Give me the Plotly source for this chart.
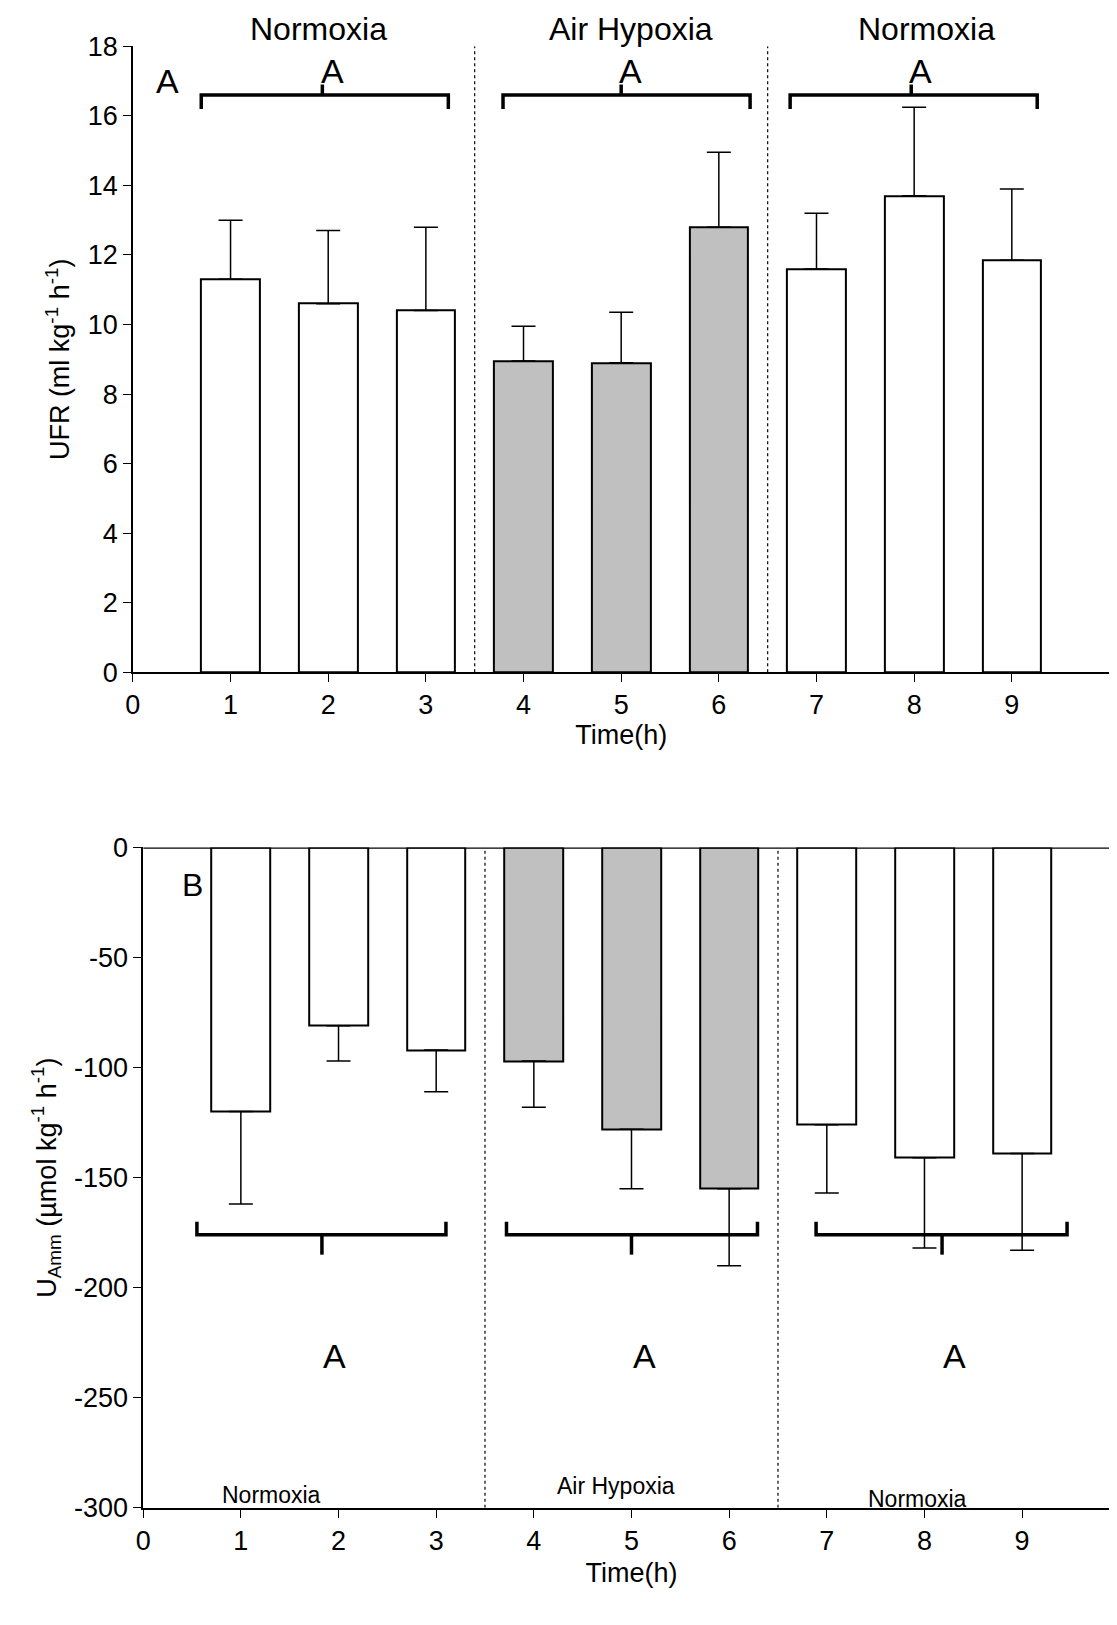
import plotly.graph_objects as go

hours = [1, 2, 3, 4, 5, 6, 7, 8, 9]
ufr = [11.3, 10.6, 10.4, 8.95, 8.9, 12.8, 11.6, 13.7, 11.85]
ufr_se = [1.7, 2.1, 2.4, 1.0, 1.45, 2.15, 1.6, 2.55, 2.05]
uamm = [-120, -81, -92, -97, -128, -155, -126, -141, -139]
uamm_se = [42, 16, 19, 21, 27, 35, 31, 41, 44]
fills = ["white"] * 3 + ["#c0c0c0"] * 3 + ["white"] * 3
b_ticks = [0, -50, -100, -150, -200, -250, -300]
b_labels = ["0", "-50", "-100", "-150", "-200", "-250", "-300"]

# brackets: (left, tick, right)
brk_a = [(0.70, 1.94, 3.23), (3.79, 5.0, 6.32), (6.73, 7.97, 9.26)]
brk_b = [(0.55, 1.83, 3.1), (3.72, 5.0, 6.29), (6.89, 8.18, 9.46)]

FONT = "Liberation Sans, Arial, sans-serif"
fig = go.Figure()

fig.add_trace(go.Bar(x=hours, y=ufr, width=0.6, marker=dict(color=fills, line=dict(color="black", width=2)),
                     error_y=dict(type="data", symmetric=False, array=ufr_se, arrayminus=[0] * 9,
                                  color="black", thickness=1.5, width=12),
                     xaxis="x", yaxis="y", showlegend=False))
fig.add_trace(go.Bar(x=hours, y=uamm, width=0.6, marker=dict(color=fills, line=dict(color="black", width=2)),
                     error_y=dict(type="data", symmetric=False, array=[0] * 9, arrayminus=uamm_se,
                                  color="black", thickness=1.5, width=12),
                     xaxis="x2", yaxis="y2", showlegend=False))

for l, t, r in brk_a:
    fig.add_trace(go.Scatter(x=[l, l, r, r, None, t, t], y=[16.2, 16.6, 16.6, 16.2, None, 16.6, 16.9],
                             mode="lines", line=dict(color="black", width=3.5), xaxis="x", yaxis="y", showlegend=False))
    fig.add_annotation(x=t + 0.1, y=17.3, text="A", showarrow=False, xref="x", yref="y",
                       font=dict(size=34, family=FONT, color="black"))
for l, t, r in brk_b:
    fig.add_trace(go.Scatter(x=[l, l, r, r, None, t, t], y=[-170, -176, -176, -170, None, -176, -185],
                             mode="lines", line=dict(color="black", width=3.5), xaxis="x2", yaxis="y2", showlegend=False))
    fig.add_annotation(x=t + 0.13, y=-231, text="A", showarrow=False, xref="x2", yref="y2",
                       font=dict(size=34, family=FONT, color="black"))

for xv in [3.5, 6.5]:
    fig.add_shape(type="line", x0=xv, x1=xv, y0=0, y1=18, xref="x", yref="y",
                  line=dict(color="black", width=1.2, dash="dot"))
    fig.add_shape(type="line", x0=xv, x1=xv, y0=-300, y1=0, xref="x2", yref="y2",
                  line=dict(color="black", width=1.2, dash="dot"))
fig.add_shape(type="line", x0=0, x1=10, y0=0, y1=0, xref="x2", yref="y2", layer="above",
              line=dict(color="black", width=2.5))

fig.add_annotation(x=0.35, y=17.0, text="A", showarrow=False, xref="x", yref="y",
                   font=dict(size=34, family=FONT, color="black"))
fig.add_annotation(x=0.5, y=-17, text="B", showarrow=False, xref="x2", yref="y2",
                   font=dict(size=32, family=FONT, color="black"))

for txt, xv in [("Normoxia", 1.9), ("Air Hypoxia", 5.1), ("Normoxia", 8.13)]:
    fig.add_annotation(x=xv, y=1.0, text=txt, showarrow=False, xref="x", yref="paper",
                       yanchor="top", yshift=14, font=dict(size=32, family=FONT, color="black"))
for txt, xv, yv in [("Normoxia", 1.31, -294), ("Air Hypoxia", 4.84, -290), ("Normoxia", 7.93, -296)]:
    fig.add_annotation(x=xv, y=yv, text=txt, showarrow=False, xref="x2", yref="y2",
                       font=dict(size=23, family=FONT, color="black"))

ax = dict(showgrid=False, zeroline=False, showline=True, linecolor="black", linewidth=1.5,
          ticks="outside", ticklen=8, tickcolor="black", tickfont=dict(size=27, family=FONT, color="black"))
tfont = dict(size=27, family=FONT, color="black")
fig.update_layout(
    width=1117, height=1625, margin=dict(l=0, r=0, t=0, b=0),
    paper_bgcolor="white", plot_bgcolor="white", bargap=0,
    xaxis=dict(ax, domain=[0.1054, 0.986], range=[0, 10], tickvals=list(range(10)), anchor="y",
               title=dict(text="Time(h)", font=tfont, standoff=2)),
    yaxis=dict(ax, domain=[0.5929, 0.9854], range=[0, 18], dtick=2, anchor="x",
               title=dict(text="UFR (ml kg<sup>-1</sup> h<sup>-1</sup>)", font=tfont, standoff=10)),
    xaxis2=dict(ax, domain=[0.1147, 0.9953], range=[0, 10], tickvals=list(range(10)), anchor="y2",
                title=dict(text="Time(h)", font=tfont, standoff=8)),
    yaxis2=dict(ax, domain=[0.0691, 0.4831], range=[-300, 0], tickvals=b_ticks, ticktext=b_labels, anchor="x2",
                title=dict(text="U<sub>Amm</sub> (µmol kg<sup>-1</sup> h<sup>-1</sup>)", font=tfont, standoff=10)),
)

fig.write_html("out.html")
